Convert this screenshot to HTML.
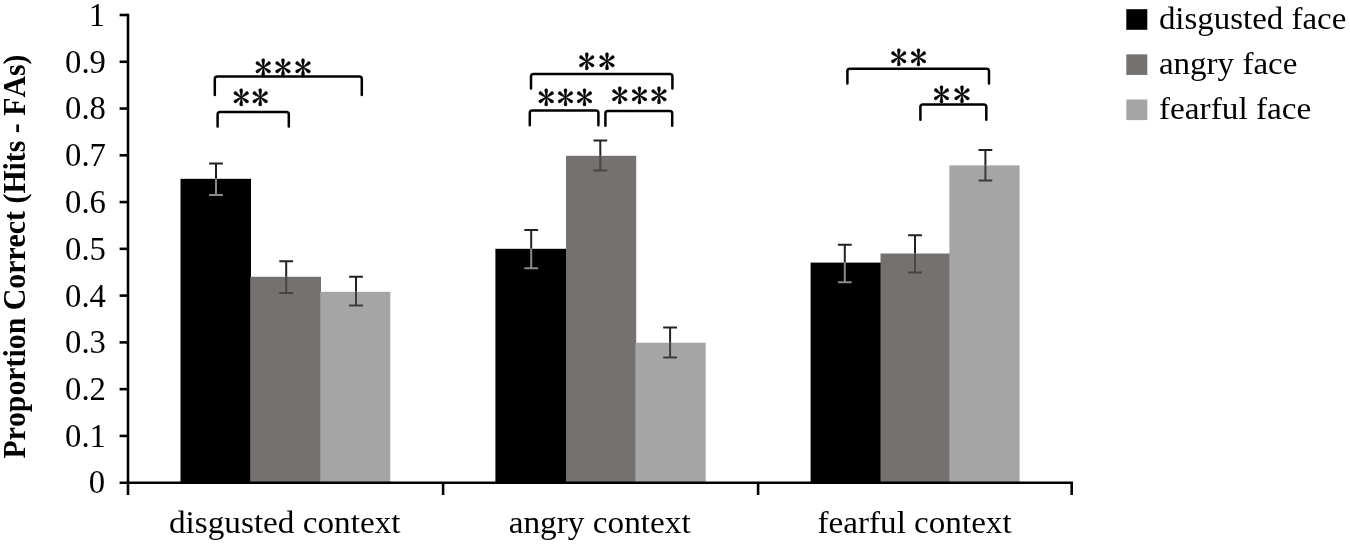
<!DOCTYPE html>
<html lang="en">
<head>
<meta charset="utf-8">
<title>Proportion Correct (Hits - FAs) by context and face</title>
<style>
html,body{margin:0;padding:0;background:#fff;}
body{width:1350px;height:545px;overflow:hidden;}
svg{display:block;}
text{font-family:"Liberation Serif",serif;fill:#000;}
.t{font-size:32.7px;}
.u{font-size:31.3px;}
.b{font-size:29.6px;font-weight:bold;font-kerning:none;}
.s{font-family:"IPAGothic","Liberation Serif",serif;font-size:35px;stroke:#000;stroke-width:0.35px;}
</style>
</head>
<body>
<svg width="1350" height="545" viewBox="0 0 1350 545">
<rect x="0" y="0" width="1350" height="545" fill="#ffffff"/>
<rect x="180.5" y="178.8" width="70.5" height="303.9" fill="#000000"/>
<rect x="250.2" y="276.8" width="70.8" height="205.9" fill="#767171"/>
<rect x="320.2" y="291.8" width="70.1" height="190.9" fill="#a5a5a5"/>
<rect x="495.4" y="248.8" width="71.4" height="233.9" fill="#000000"/>
<rect x="566.0" y="155.8" width="70.2" height="326.9" fill="#767171"/>
<rect x="635.4" y="342.7" width="70.3" height="140.0" fill="#a5a5a5"/>
<rect x="810.6" y="262.6" width="70.7" height="220.1" fill="#000000"/>
<rect x="880.5" y="253.5" width="69.7" height="229.2" fill="#767171"/>
<rect x="949.4" y="165.4" width="70.2" height="317.3" fill="#a5a5a5"/>
<g stroke="#000" stroke-width="2.6" fill="none" stroke-linecap="butt">
<line x1="128.0" y1="13.7" x2="128.0" y2="495"/>
<line x1="119.6" y1="482.7" x2="1073" y2="482.7"/>
<line x1="119.6" y1="435.93" x2="128.0" y2="435.93"/>
<line x1="119.6" y1="389.16" x2="128.0" y2="389.16"/>
<line x1="119.6" y1="342.39" x2="128.0" y2="342.39"/>
<line x1="119.6" y1="295.62" x2="128.0" y2="295.62"/>
<line x1="119.6" y1="248.85" x2="128.0" y2="248.85"/>
<line x1="119.6" y1="202.08" x2="128.0" y2="202.08"/>
<line x1="119.6" y1="155.31" x2="128.0" y2="155.31"/>
<line x1="119.6" y1="108.54" x2="128.0" y2="108.54"/>
<line x1="119.6" y1="61.77" x2="128.0" y2="61.77"/>
<line x1="119.6" y1="15.00" x2="128.0" y2="15.00"/>
<line x1="443.1" y1="482.7" x2="443.1" y2="495"/>
<line x1="758.1" y1="482.7" x2="758.1" y2="495"/>
<line x1="1071.7" y1="482.7" x2="1071.7" y2="495"/>
</g>
<g stroke-width="2" fill="none"><path d="M209.1 163.6H222.9M216.0 163.6V178.8" stroke="#222222"/><path d="M216.0 178.8V195.1M209.1 195.1H222.9" stroke="#8a8a8a"/></g>
<g stroke-width="2" fill="none"><path d="M279.3 261.3H293.1M286.2 261.3V276.8" stroke="#222222"/><path d="M286.2 276.8V292.9M279.3 292.9H293.1" stroke="#4a4646"/></g>
<g stroke-width="2" fill="none"><path d="M349.1 276.8H362.9M356.0 276.8V291.8" stroke="#222222"/><path d="M356.0 291.8V305.4M349.1 305.4H362.9" stroke="#3c3c3c"/></g>
<g stroke-width="2" fill="none"><path d="M524.3 229.9H538.1M531.2 229.9V248.8" stroke="#222222"/><path d="M531.2 248.8V268.2M524.3 268.2H538.1" stroke="#8a8a8a"/></g>
<g stroke-width="2" fill="none"><path d="M593.4 140.4H607.2M600.3 140.4V155.8" stroke="#222222"/><path d="M600.3 155.8V170.4M593.4 170.4H607.2" stroke="#4a4646"/></g>
<g stroke-width="2" fill="none"><path d="M663.2 327.4H677.0M670.1 327.4V342.7" stroke="#222222"/><path d="M670.1 342.7V357.6M663.2 357.6H677.0" stroke="#3c3c3c"/></g>
<g stroke-width="2" fill="none"><path d="M837.9 244.8H851.7M844.8 244.8V262.6" stroke="#222222"/><path d="M844.8 262.6V282.3M837.9 282.3H851.7" stroke="#8a8a8a"/></g>
<g stroke-width="2" fill="none"><path d="M908.1 235.2H921.9M915.0 235.2V253.5" stroke="#222222"/><path d="M915.0 253.5V272.5M908.1 272.5H921.9" stroke="#4a4646"/></g>
<g stroke-width="2" fill="none"><path d="M978.5 150.0H992.3M985.4 150.0V165.4" stroke="#222222"/><path d="M985.4 165.4V180.6M978.5 180.6H992.3" stroke="#3c3c3c"/></g>
<g stroke="#000" stroke-width="2.5" fill="none" stroke-linejoin="round" stroke-linecap="round">
<path d="M214.8 95.1V79.1Q214.8 76.6 217.3 76.6H359.3Q361.8 76.6 361.8 79.1V95.1"/>
<path d="M217.6 126.5V114.5Q217.6 112.0 220.1 112.0H286.3Q288.8 112.0 288.8 114.5V126.5"/>
<path d="M531.0 88.5V76.5Q531.0 74.0 533.5 74.0H669.9Q672.4 74.0 672.4 76.5V88.5"/>
<path d="M529.8 125.2V113.1Q529.8 110.6 532.3 110.6H595.9Q598.4 110.6 598.4 113.1V125.2"/>
<path d="M605.4 125.7V113.5Q605.4 111.0 607.9 111.0H669.7Q672.2 111.0 672.2 113.5V125.7"/>
<path d="M847.4 83.5V71.3Q847.4 68.8 849.9 68.8H986.5Q989.0 68.8 989.0 71.3V83.5"/>
<path d="M920.4 119.7V107.0Q920.4 104.5 922.9 104.5H983.8Q986.3 104.5 986.3 107.0V119.7"/>
</g>
<text class="s" x="254.47 274.32 294.17" y="79.85">***</text>
<text class="s" x="232.57 251.57" y="110.20">**</text>
<text class="s" x="578.07 598.27" y="74.20">**</text>
<text class="s" x="537.57 556.72 575.87" y="109.55">***</text>
<text class="s" x="611.07 630.72 650.37" y="108.35">***</text>
<text class="s" x="890.07 909.67" y="69.85">**</text>
<text class="s" x="932.67 953.37" y="107.25">**</text>
<text class="t" text-anchor="end" x="105.2" y="492.70">0</text>
<text class="t" text-anchor="end" x="105.9" y="446.83">0.1</text>
<text class="t" text-anchor="end" x="105.9" y="400.06">0.2</text>
<text class="t" text-anchor="end" x="105.9" y="353.29">0.3</text>
<text class="t" text-anchor="end" x="105.9" y="306.52">0.4</text>
<text class="t" text-anchor="end" x="105.9" y="259.75">0.5</text>
<text class="t" text-anchor="end" x="105.9" y="212.98">0.6</text>
<text class="t" text-anchor="end" x="105.9" y="166.21">0.7</text>
<text class="t" text-anchor="end" x="105.9" y="119.44">0.8</text>
<text class="t" text-anchor="end" x="105.9" y="72.67">0.9</text>
<text class="t" text-anchor="end" x="105.2" y="25.90">1</text>
<text class="b" id="ytitle" transform="translate(24.6 458.5) rotate(-90) scale(1 1.08)" x="0" y="0" textLength="404" lengthAdjust="spacingAndGlyphs">Proportion Correct (Hits - FAs)</text>
<text class="u" id="xl0" x="169" y="533.3" textLength="231.5" lengthAdjust="spacingAndGlyphs">disgusted context</text>
<text class="u" id="xl1" x="508.7" y="533.3" textLength="182" lengthAdjust="spacingAndGlyphs">angry context</text>
<text class="u" id="xl2" x="817.6" y="533.3" textLength="194" lengthAdjust="spacingAndGlyphs">fearful context</text>
<rect x="1126.3" y="9.20" width="21" height="20.6" fill="#000000"/>
<text class="u" id="lg0" x="1158.9" y="28.80" textLength="187.4" lengthAdjust="spacingAndGlyphs">disgusted face</text>
<rect x="1126.3" y="54.35" width="21" height="20.6" fill="#767171"/>
<text class="u" id="lg1" x="1158.9" y="73.80" textLength="138.5" lengthAdjust="spacingAndGlyphs">angry face</text>
<rect x="1126.3" y="99.50" width="21" height="20.6" fill="#a5a5a5"/>
<text class="u" id="lg2" x="1158.9" y="118.80" textLength="152.5" lengthAdjust="spacingAndGlyphs">fearful face</text>
</svg>
</body>
</html>
